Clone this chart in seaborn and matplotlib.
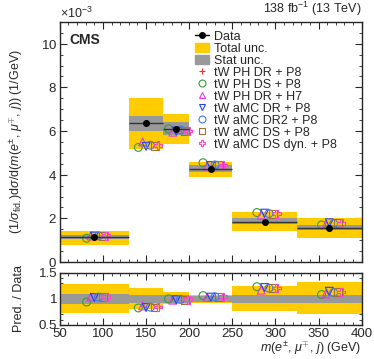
import numpy as np
import pandas as pd
import matplotlib
matplotlib.use('Agg')
import matplotlib.pyplot as plt
from matplotlib.patches import Patch
from matplotlib.lines import Line2D
from matplotlib.ticker import MultipleLocator, ScalarFormatter
import seaborn as sns

########
# Data #
########
bin_edges = [50, 130, 170, 200, 250, 325, 400]

# normalised cross section, in units of 1e-3 / GeV
data_vals = [1.16, 6.36, 6.10, 4.28, 1.84, 1.57]
tot_up = [0.27, 1.17, 0.70, 0.30, 0.46, 0.45]
tot_dn = [0.38, 1.17, 0.68, 0.38, 0.42, 0.49]
stat_up = [0.08, 0.32, 0.30, 0.16, 0.16, 0.12]
stat_dn = [0.10, 0.36, 0.30, 0.16, 0.10, 0.11]

# relative uncertainties shown in the ratio panel
ratio_tot_up = [0.29, 0.20, 0.13, 0.08, 0.25, 0.32]
ratio_tot_dn = [0.27, 0.19, 0.10, 0.08, 0.23, 0.30]
ratio_stat = [0.10, 0.07, 0.07, 0.06, 0.08, 0.08]

models = ['tW PH DR + P8', 'tW PH DS + P8', 'tW PH DR + H7', 'tW aMC DR + P8',
          'tW aMC DR2 + P8', 'tW aMC DS + P8', 'tW aMC DS dyn. + P8']
model_markers = ['+', 'o', '^', 'v', 'o', 's', 'P']
model_colors = ['#ff2a2a', '#3a9a3a', '#ee33ee', '#2244ee', '#4477ee', '#a0703a', '#ff44cc']
model_offsets = [-14, -9, -4, 0, 5, 10, 14]

pred_vals = {
    'tW PH DR + P8':       [1.04, 5.15, 6.05, 4.52, 2.27, 1.82],
    'tW PH DS + P8':       [1.09, 5.25, 6.10, 4.55, 2.27, 1.70],
    'tW PH DR + H7':       [1.20, 5.50, 5.95, 4.40, 2.15, 1.72],
    'tW aMC DR + P8':      [1.19, 5.30, 6.00, 4.42, 2.24, 1.80],
    'tW aMC DR2 + P8':     [1.20, 5.35, 6.05, 4.45, 2.22, 1.76],
    'tW aMC DS + P8':      [1.20, 5.30, 6.00, 4.45, 2.22, 1.78],
    'tW aMC DS dyn. + P8': [1.21, 5.35, 6.00, 4.45, 2.22, 1.78],
}

#########
# Setup #
#########
sns.set_style('ticks')
plt.rcParams['font.family'] = ['Liberation Sans', 'DejaVu Sans']
plt.rcParams['mathtext.fontset'] = 'custom'
plt.rcParams['mathtext.rm'] = 'Liberation Sans'
plt.rcParams['mathtext.it'] = 'Liberation Sans:italic'
plt.rcParams['mathtext.bf'] = 'Liberation Sans:bold'

fig = plt.figure(figsize=(3.74, 3.59), dpi=100)
ax = fig.add_axes([0.160, 0.270, 0.807, 0.669])
rax = fig.add_axes([0.160, 0.095, 0.807, 0.145], sharex=ax)

edges = np.array(bin_edges, dtype=float)
centers = 0.5 * (edges[:-1] + edges[1:])
widths = np.diff(edges)
scale = 1e-3
dv = np.array(data_vals)

##############
# Top panel  #
##############
for i in range(len(dv)):
    ax.bar(edges[i], (tot_up[i] + tot_dn[i]) * scale, width=widths[i],
           bottom=(dv[i] - tot_dn[i]) * scale, align='edge',
           color='#ffcc00', lw=0, zorder=1)
    ax.bar(edges[i], (stat_up[i] + stat_dn[i]) * scale, width=widths[i],
           bottom=(dv[i] - stat_dn[i]) * scale, align='edge',
           color='#999999', lw=0, zorder=2)

for m, mk, c, off in zip(models, model_markers, model_colors, model_offsets):
    sns.scatterplot(x=centers + off, y=np.array(pred_vals[m]) * scale, ax=ax,
                    marker=mk, s=32, facecolor='none', edgecolor=c, color=c,
                    linewidth=0.8, zorder=4)

ax.errorbar(centers, dv * scale, xerr=widths / 2, fmt='o', color='black',
            ecolor='#333333', elinewidth=1.0, markersize=4, zorder=5)

ax.set_xlim(50, 400)
ax.set_ylim(0, 11e-3)
ax.yaxis.set_major_locator(MultipleLocator(2e-3))
ax.yaxis.set_minor_locator(MultipleLocator(0.5e-3))
fmt = ScalarFormatter(useMathText=True)
fmt.set_powerlimits((-3, -3))
ax.yaxis.set_major_formatter(fmt)
ax.set_ylabel(r'$(1/\sigma_{\rm fid.})\mathrm{d}\sigma/\mathrm{d}(m(e^{\pm},\,\mu^{\mp},\,j))$ (1/GeV)',
              fontsize=9)
ax.yaxis.set_label_coords(-0.115, 0.5)
plt.setp(ax.get_xticklabels(), visible=False)

ax.text(0.03, 0.955, 'CMS', transform=ax.transAxes, fontsize=10,
        fontweight='bold', va='top')
ax.text(1.0, 1.015, r'138 fb$^{-1}$ (13 TeV)', transform=ax.transAxes,
        fontsize=9, ha='right', va='bottom')

handles = [Line2D([], [], color='black', marker='o', markersize=4, lw=1),
           Patch(color='#ffcc00'), Patch(color='#999999')]
labels = ['Data', 'Total unc.', 'Stat unc.']
for m, mk, c in zip(models, model_markers, model_colors):
    handles.append(Line2D([], [], ls='', marker=mk, markersize=5,
                          markerfacecolor='none', markeredgecolor=c, mew=0.8))
    labels.append(m)
ax.legend(handles, labels, loc='upper left', bbox_to_anchor=(0.42, 1.0),
          frameon=False, fontsize=9, labelspacing=0.0, handlelength=1.1,
          handletextpad=0.4, borderpad=0.2)

################
# Ratio panel  #
################
for i in range(len(dv)):
    rax.bar(edges[i], ratio_tot_up[i] + ratio_tot_dn[i], width=widths[i],
            bottom=1 - ratio_tot_dn[i], align='edge',
            color='#ffcc00', lw=0, zorder=1)
    rax.bar(edges[i], 2 * ratio_stat[i], width=widths[i],
            bottom=1 - ratio_stat[i], align='edge',
            color='#999999', lw=0, zorder=2)

for m, mk, c, off in zip(models, model_markers, model_colors, model_offsets):
    sns.scatterplot(x=centers + off, y=np.array(pred_vals[m]) / dv, ax=rax,
                    marker=mk, s=32, facecolor='none', edgecolor=c, color=c,
                    linewidth=0.8, zorder=4)

rax.set_ylim(0.5, 1.5)
rax.set_yticks([0.5, 1, 1.5])
rax.set_yticklabels(['0.5', '1', '1.5'])
rax.yaxis.set_minor_locator(MultipleLocator(0.1))
rax.xaxis.set_major_locator(MultipleLocator(50))
rax.xaxis.set_minor_locator(MultipleLocator(10))
rax.set_ylabel('Pred. / Data', fontsize=9)
rax.yaxis.set_label_coords(-0.115, 0.5)
rax.set_xlabel(r'$m(e^{\pm},\,\mu^{\mp},\,j)$ (GeV)', fontsize=9, loc='right',
               labelpad=0)

for a in (ax, rax):
    a.tick_params(which='both', direction='in', top=True, right=True,
                  labelsize=9.5)
    a.tick_params(which='major', length=5, pad=2)
    a.tick_params(which='minor', length=2.5)
    for s in a.spines.values():
        s.set_linewidth(1.0)
ax.yaxis.get_offset_text().set_fontsize(9)

fig.savefig('out.png', dpi=100)
